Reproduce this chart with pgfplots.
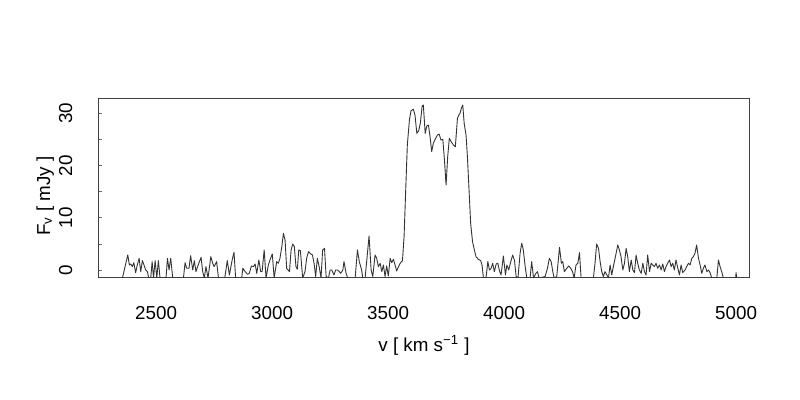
\documentclass[border=0pt]{standalone}
\usepackage{fontspec}
\setmainfont{Liberation Sans}
\usepackage{pgfplots}
\pgfplotsset{compat=1.18}

% spectrum: velocity (km/s), flux density (mJy)
\pgfplotstableread{
v F
2355 -1.5
2378 2.92
2385 1.01
2391 1.20
2398 0.69
2404 1.45
2412 -0.46
2418 0.82
2427 2.28
2434 -0.27
2441 1.84
2448 1.01
2455 0.05
2463 -0.27
2468 -1.5
2477 -1.5
2483 1.65
2489 -1.5
2496 1.84
2503 -1.5
2510 1.84
2517 -1.5
2543 -1.5
2549 2.28
2556 0.05
2563 2.28
2572 -1.5
2618 -1.5
2625 1.45
2632 0.37
2642 0.37
2649 2.79
2658 0.05
2665 1.84
2672 -0.27
2678 0.56
2687 1.65
2694 2.47
2701 -0.27
2708 -1.5
2715 0.69
2724 -1.5
2736 2.60
2744 1.33
2750 0.69
2761 1.65
2769 -1.5
2796 -1.5
2807 1.84
2816 -0.9
2828 1.96
2836 3.43
2843 -1.5
2869 -1.5
2874 0.37
2884 -0.27
2894 -0.78
2902 -0.59
2911 0.82
2920 0.69
2927 1.20
2934 -0.59
2943 1.96
2951 -0.27
2957 -0.27
2966 3.88
2974 -1.5
2984 1.01
2991 1.96
3001 3.11
3009 -1.5
3020 1.65
3027 1.33
3034 2.28
3042 4.51
3049 7.06
3056 5.79
3063 0.37
3075 -0.27
3082 3.88
3089 5.02
3096 4.51
3103 0.69
3109 0.18
3115 3.88
3122 3.75
3132 -1.5
3142 -0.27
3149 2.28
3157 3.56
3167 3.11
3174 2.92
3181 1.33
3188 -1.2
3195 2.28
3203 0.69
3211 -1.5
3218 3.88
3226 4.19
3233 -1.2
3243 -1.5
3250 0.05
3257 0.05
3267 -0.9
3274 0.05
3282 0.05
3290 -0.27
3296 -0.59
3305 0.05
3310 1.65
3319 -0.59
3326 -1.5
3358 -1.5
3368 3.88
3376 1.65
3386 0.05
3391 -1.5
3401 -1.5
3418 6.55
3427 0.05
3434 -1.2
3444 2.92
3451 2.28
3458 0.69
3466 1.33
3473 -0.27
3480 1.01
3487 -1.2
3494 0.82
3501 -1.1
3509 2.28
3516 1.45
3523 2.09
3530 1.01
3537 -0.14
3545 0.69
3552 1.33
3562 1.84
3569 6.43
3576 15.35
3583 23.95
3592 28.73
3599 30.52
3609 30.77
3616 29.69
3624 26.18
3632 26.69
3639 28.1
3647 31.41
3652 31.6
3660 26.18
3667 27.59
3674 27.78
3681 25.55
3688 22.68
3695 24.27
3703 25.04
3713 25.87
3720 26.06
3728 24.91
3736 25.04
3743 21.09
3750 16.30
3757 21.72
3764 25.23
3772 24.59
3782 23.95
3790 23.63
3799 29.05
3805 29.69
3810 30.01
3816 30.97
3822 31.6
3828 28.1
3836 25.87
3842 21.72
3849 15.35
3856 8.97
3864 5.47
3872 3.88
3879 2.60
3889 2.09
3899 1.84
3905 1.01
3911 -1.5
3922 -1.5
3930 1.65
3937 0.05
3944 0.37
3951 1.33
3958 -0.27
3966 1.20
3973 1.33
3980 -0.08
3987 -0.9
3997 2.73
4006 -0.9
4012 1.01
4020 0.05
4029 1.65
4037 2.92
4045 1.84
4052 -1.2
4060 -1.5
4069 3.24
4076 5.15
4083 3.88
4091 0.69
4098 -1.5
4112 -1.5
4119 1.65
4127 -1.5
4137 -0.59
4144 -0.27
4151 -1.5
4177 -1.2
4187 0.37
4195 2.28
4203 1.65
4210 -0.27
4216 -1.5
4227 -1.2
4239 4.38
4247 1.33
4253 1.65
4260 -0.27
4270 0.37
4279 0.82
4287 0.37
4295 -0.27
4302 -1.5
4310 1.01
4318 1.33
4325 3.37
4332 -1.5
4385 -1.5
4392 1.33
4399 5.02
4407 4.19
4414 1.65
4421 -0.27
4428 -1.2
4435 -0.27
4443 -0.9
4450 -1.5
4457 1.01
4464 -0.9
4474 1.33
4483 3.24
4490 4.83
4497 3.88
4504 2.60
4512 0.05
4519 1.33
4526 4.19
4533 2.60
4540 -0.27
4548 1.96
4555 0.05
4562 -0.46
4569 2.92
4576 1.33
4583 0.05
4591 -0.59
4598 1.33
4605 -0.27
4612 -0.9
4619 2.92
4627 -0.27
4634 1.33
4641 1.01
4648 0.69
4655 1.33
4662 0.37
4670 1.01
4677 0.05
4684 1.20
4691 -0.27
4698 0.69
4705 1.33
4713 1.96
4720 0.69
4727 1.33
4734 0.05
4741 1.96
4749 0.37
4756 -0.9
4763 1.01
4770 -0.46
4780 0.05
4787 0.69
4795 1.33
4802 1.01
4809 2.28
4816 2.60
4823 3.24
4830 4.83
4838 2.28
4845 1.01
4852 -0.59
4859 0.37
4866 1.01
4874 -0.27
4881 0.05
4888 -0.46
4895 -1.5
4917 -1.5
4924 1.96
4931 0.69
4938 -0.27
4945 -1.5
4998 -1.5
5000 -0.46
5003 -1.5
}\spectrum

\begin{document}
\fontsize{9.4}{11.2}\selectfont
\begin{tikzpicture}[x=1pt,y=1pt]
  % 1px = 0.5pt, page 800x400 px
  \path[use as bounding box] (0,0) rectangle (400,200);
  \begin{axis}[
    at={(49.15pt,61.35pt)}, anchor=south west,
    scale only axis, width=325.5pt, height=89.5pt,
    xmin=2251, xmax=5057, ymin=-1.35, ymax=32.89,
    axis line style={black!75, line width=0.5pt},
    xtick={2500,3000,...,5000},
    ytick={0,10,20,30}, minor ytick={5,15,25},
    xtick pos=bottom, ytick pos=left, tick align=inside,
    xtick style={draw=none},
    ytick style={black!60, line width=0.5pt},
    major tick length=2pt, minor tick length=2pt,
    tick label style={font=\fontsize{9.4}{11.2}\selectfont, black},
    /pgf/number format/assume math mode=true,
    /pgf/number format/1000 sep={},
    xticklabel style={anchor=base}, xticklabel shift=21.35pt,
    yticklabel style={rotate=90, anchor=base}, yticklabel shift=13.15pt,
  ]
    \addplot[black!80, line width=0.45pt, line join=round] table[x=v, y=F] {\spectrum};
  \end{axis}
  \node[anchor=base] at (212,24) {v [ km s\textsuperscript{−1} ]};
  \node[rotate=90, anchor=base] at (25,102) {F\textsubscript{v} [ mJy ]};
\end{tikzpicture}
\end{document}
